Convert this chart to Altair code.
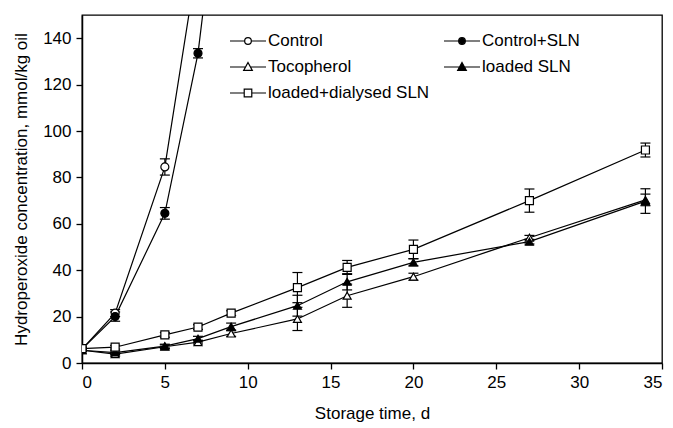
import altair as alt
import pandas as pd

# ---- data ----
days = [0, 2, 5, 7, 9, 13, 16, 20, 27, 34]
series_names = ["Control", "Control+SLN", "Tocopherol", "loaded SLN", "loaded+dialysed SLN"]

control = [6.0, 21.5, 84.5, 175.0]
control_sd = [0.8, 1.5, 3.5, 4.0]
control_sln = [6.0, 20.0, 64.5, 133.5, 251.0]
control_sln_sd = [0.8, 2.0, 2.5, 2.0, 5.0]
tocopherol = [5.5, 3.8, 7.0, 9.0, 12.7, 19.0, 29.0, 37.2, 54.0, 70.3]
tocopherol_sd = [0.5, 0.8, 0.8, 0.8, 1.2, 5.0, 5.0, 1.5, 1.0, 2.5]
loaded = [5.5, 4.5, 7.3, 10.5, 15.7, 24.7, 35.0, 43.4, 52.3, 69.8]
loaded_sd = [0.5, 0.8, 0.8, 1.0, 1.5, 4.5, 3.5, 1.5, 1.0, 5.3]
dialysed = [6.2, 6.8, 12.1, 15.5, 21.5, 32.5, 41.2, 49.0, 70.0, 91.8]
dialysed_sd = [0.6, 0.8, 1.0, 1.0, 1.0, 6.5, 3.0, 4.0, 5.0, 3.0]

y_ticks = [0, 20, 40, 60, 80, 100, 120, 140]
x_ticks = [0, 5, 10, 15, 20, 25, 30, 35]

values = [control, control_sln, tocopherol, loaded, dialysed]
sds = [control_sd, control_sln_sd, tocopherol_sd, loaded_sd, dialysed_sd]

rows = []
for name, vals, sd in zip(series_names, values, sds):
    for d, v, s in zip(days, vals, sd):
        rows.append({"series": name, "day": d, "value": v, "lo": v - s, "hi": v + s})
df = pd.DataFrame(rows)

FONT = "Liberation Sans"
FS = 17

shape_of = {"Control": "circle", "Control+SLN": "circle", "Tocopherol": "triangle-up",
            "loaded SLN": "triangle-up", "loaded+dialysed SLN": "square"}
fill_of = {"Control": "white", "Control+SLN": "black", "Tocopherol": "white",
           "loaded SLN": "black", "loaded+dialysed SLN": "white"}

# legend symbols: short line with a marker (path units; 1 unit = 9 px at size 324)
leg_circle = "M-2,0L-0.37,0M0.37,0L2,0M-0.37,0A0.37,0.37 0 1,0 0.37,0A0.37,0.37 0 1,0 -0.37,0Z"
leg_tri = "M-2,0L-0.28,0M0.28,0L2,0M0,-0.5L0.48,0.38L-0.48,0.38Z"
leg_sq = "M-2,0L-0.42,0M0.42,0L2,0M-0.42,-0.42L0.42,-0.42L0.42,0.42L-0.42,0.42Z"
leg_shape_of = {"Control": leg_circle, "Control+SLN": leg_circle, "Tocopherol": leg_tri,
                "loaded SLN": leg_tri, "loaded+dialysed SLN": leg_sq}
# the legend grid fills column by column
legend_order = ["Control", "Tocopherol", "loaded+dialysed SLN", "Control+SLN", "loaded SLN"]

x_scale = alt.Scale(domain=[0, 35], nice=False, zero=False)
y_scale = alt.Scale(domain=[0, 150], nice=False)

x_enc = alt.X("day:Q", scale=x_scale,
              axis=alt.Axis(values=x_ticks, title="Storage time, d", titleX=290, titleY=50,
                            titleBaseline="middle", titleAlign="center"))
y_enc = alt.Y("value:Q", scale=y_scale,
              axis=alt.Axis(values=y_ticks, title="Hydroperoxide concentration, mmol/kg oil",
                            titleX=-61, titleY=174, titleAngle=-90, titleBaseline="middle",
                            titleAlign="center"))

base = alt.Chart(df)

lines = base.mark_line(color="black", strokeWidth=1.2, clip=True).encode(
    x=x_enc, y=y_enc, detail="series:N")

bars = base.mark_rule(color="black", strokeWidth=1.2, clip=True).encode(
    x="day:Q", y="lo:Q", y2="hi:Q")
cap_lo = base.mark_tick(color="black", orient="horizontal", size=10, thickness=1.2,
                        clip=True, opacity=1).encode(x="day:Q", y="lo:Q")
cap_hi = base.mark_tick(color="black", orient="horizontal", size=10, thickness=1.2,
                        clip=True, opacity=1).encode(x="day:Q", y="hi:Q")

points = base.mark_point(filled=True, stroke="black", strokeWidth=1.2, size=64,
                         opacity=1, clip=True).encode(
    x="day:Q", y="value:Q",
    shape=alt.Shape("series:N", scale=alt.Scale(domain=series_names,
                    range=[shape_of[s] for s in series_names]), legend=None),
    fill=alt.Fill("series:N", scale=alt.Scale(domain=series_names,
                  range=[fill_of[s] for s in series_names]), legend=None),
)


def leg():
    return alt.Legend(title=None, orient="none", legendX=156, legendY=16,
                      columns=2, columnPadding=11, rowPadding=8,
                      labelFont=FONT, labelFontSize=FS, labelColor="black",
                      labelOffset=10, labelLimit=400, symbolSize=324,
                      symbolStrokeWidth=1.2, symbolStrokeColor="black",
                      symbolOpacity=1, padding=0)


legend_layer = base.transform_filter("datum.day < -100").mark_point(
    filled=True, strokeWidth=1.2, opacity=1).encode(
    x="day:Q", y="value:Q",
    shape=alt.Shape("series:N", scale=alt.Scale(domain=legend_order,
                    range=[leg_shape_of[s] for s in legend_order]), legend=leg()),
    fill=alt.Fill("series:N", scale=alt.Scale(domain=legend_order,
                  range=[fill_of[s] for s in legend_order]), legend=leg()),
    stroke=alt.Stroke("series:N", scale=alt.Scale(domain=legend_order,
                      range=["black"] * len(legend_order)), legend=leg()),
)

chart = alt.layer(lines, bars, cap_lo, cap_hi, points, legend_layer).resolve_scale(
    shape="independent", fill="independent", stroke="independent"
).properties(
    width=580, height=348,
    autosize=alt.AutoSizeParams(type="none"),
    padding={"left": 74, "top": 7, "right": 3, "bottom": 64},
    background="white",
).configure_view(
    stroke="black", strokeWidth=1.3
).configure_axis(
    domainColor="black", domainWidth=1.5, tickColor="black", tickWidth=1.3, tickSize=6,
    labelFont=FONT, labelFontSize=FS, labelColor="black", labelPadding=5,
    titleFont=FONT, titleFontSize=FS, titleColor="black", titleFontWeight="normal",
    grid=False,
)

chart.save("out.html", embed_options={"renderer": "svg", "actions": False})
